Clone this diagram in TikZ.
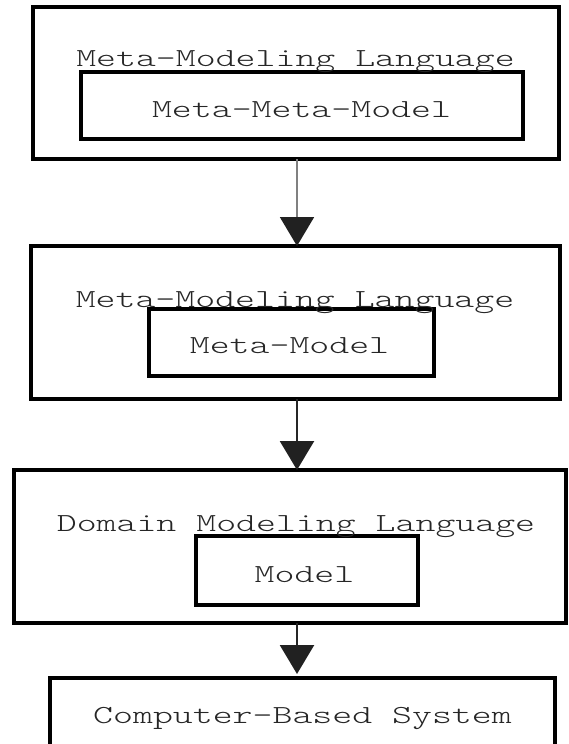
\documentclass[tikz,border=0pt]{standalone}
\usepackage{fontspec}
\setmonofont{Latin Modern Mono Light}
\usetikzlibrary{arrows.meta}

\begin{document}
\begin{tikzpicture}[x=1pt,y=-1pt,
  outerbox/.style={draw=black,line width=3.6pt,inner sep=0pt,outer sep=0pt},
  innerbox/.style={draw=black,line width=3.2pt,inner sep=0pt,outer sep=0pt},
  lbl/.style={anchor=base,inner sep=0pt,text=black!85,font=\ttfamily\fontsize{26}{28}\selectfont},
  head/.style={-{Triangle[length=29pt,width=34pt,color=black!87,fill=black!87]}}
]
\newcommand\wide[1]{\scalebox{1.46}[1]{#1}}
\clip (0,0) rectangle (568,744);
\fill[white] (0,0) rectangle (568,744);

% outer language boxes
\node[outerbox,minimum width=526pt,minimum height=152pt] (b1) at (296,83) {};
\node[outerbox,minimum width=529pt,minimum height=153pt] (b2) at (295.5,322.5) {};
\node[outerbox,minimum width=552pt,minimum height=153pt] (b3) at (290,546.5) {};
\node[outerbox,minimum width=505pt,minimum height=120pt] (b4) at (302.5,738) {};

% inner model boxes
\node[innerbox,minimum width=442pt,minimum height=67pt] (i1) at (302,105.5) {};
\node[innerbox,minimum width=285pt,minimum height=67pt] (i2) at (291.5,342.5) {};
\node[innerbox,minimum width=222pt,minimum height=69pt] (i3) at (307,570.5) {};

% labels
\node[lbl] (t1) at (295.5,66) {\wide{Meta-Modeling Language}};
\node[lbl] (m1) at (301.5,117) {\wide{Meta-Meta-Model}};
\node[lbl] (t2) at (295,307) {\wide{Meta-Modeling Language}};
\node[lbl] (m2) at (289.5,353) {\wide{Meta-Model}};
\node[lbl] (t3) at (296,531) {\wide{Domain Modeling Language}};
\node[lbl] (m3) at (304.5,582) {\wide{Model}};
\node[lbl] (t4) at (302.5,723) {\wide{Computer-Based System}};

% connectors
\coordinate (ax) at (297,0);
\draw[head,line width=2pt,draw=black!50] (b1.south -| ax) -- (b2.north -| ax);
\draw[head,line width=2.4pt,draw=black!85] (b2.south -| ax) -- (b3.north -| ax);
\draw[head,line width=2.4pt,draw=black!85,shorten >=4pt] (b3.south -| ax) -- (b4.north -| ax);
\end{tikzpicture}
\end{document}
